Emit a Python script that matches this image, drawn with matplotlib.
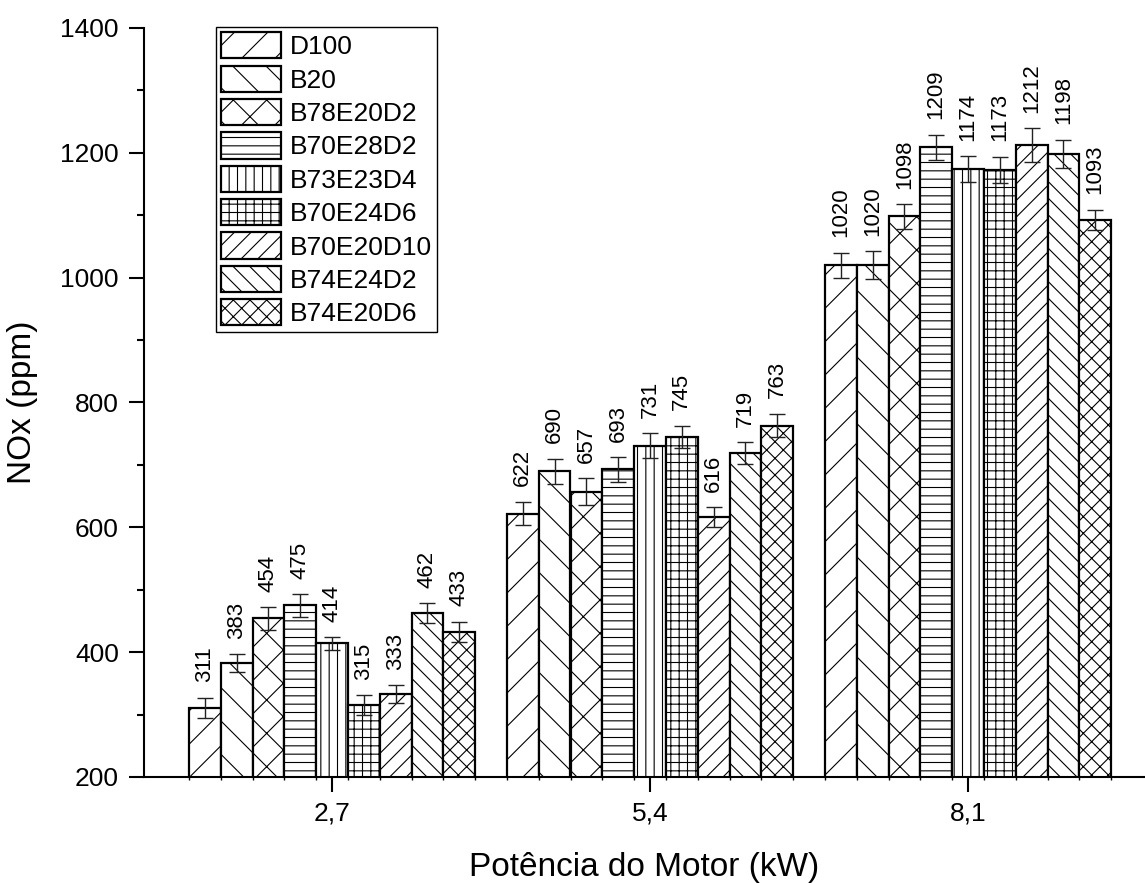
import matplotlib
matplotlib.use("Agg")
import matplotlib.pyplot as plt
import numpy as np
from matplotlib.ticker import MultipleLocator, FixedLocator

plt.rcParams['font.family'] = ['Liberation Sans', 'DejaVu Sans']
plt.rcParams['hatch.linewidth'] = 0.8
plt.rcParams['hatch.color'] = 'black'

groups = ['2,7', '5,4', '8,1']
series = ['D100', 'B20', 'B78E20D2', 'B70E28D2', 'B73E23D4', 'B70E24D6',
          'B70E20D10', 'B74E24D2', 'B74E20D6']
hatches = ['/', '\\', 'x', '--', '||', '++', '//', '\\\\', 'xx']

vals_27 = [311, 383, 454, 475, 414, 315, 333, 462, 433]
vals_54 = [622, 690, 657, 693, 731, 745, 616, 719, 763]
vals_81 = [1020, 1020, 1098, 1209, 1174, 1173, 1212, 1198, 1093]

err_27 = [16, 14, 18, 18, 10, 16, 14, 16, 16]
err_54 = [19, 20, 22, 20, 20, 18, 16, 18, 19]
err_81 = [20, 22, 20, 20, 21, 21, 27, 23, 16]

values = np.array([vals_27, vals_54, vals_81])
errors = np.array([err_27, err_54, err_81])

fig = plt.figure(figsize=(11.45, 8.83), dpi=100)
ax = fig.add_axes([144/1145, 1-777/883, 1-144/1145, (777-28)/883])

x = np.arange(len(groups))
width = 0.1
n = len(series)
edges = []
for i, name in enumerate(series):
    pos = x + (i - (n - 1) / 2) * width
    ax.bar(pos, values[:, i], width, color='white', edgecolor='black',
           linewidth=1.6, hatch=hatches[i], label=name, zorder=2)
    ax.errorbar(pos, values[:, i], yerr=errors[:, i], fmt='none',
                ecolor='#222222', elinewidth=1.0, capsize=5.5, capthick=1.0,
                zorder=3)
    for p, v, e in zip(pos, values[:, i], errors[:, i]):
        ax.annotate(str(v), (p, v + e), xytext=(0, 11),
                    textcoords='offset points', rotation=90,
                    ha='center', va='bottom', fontsize=16)
    edges.extend(list(pos - width / 2) + list(pos + width / 2))

ax.set_xlim(-(332-144)/318, 2 + (1145-968)/318)
ax.set_ylim(200, 1400)
ax.set_xticks(x)
ax.set_xticklabels(groups)
ax.xaxis.set_minor_locator(FixedLocator(sorted(set(np.round(edges, 4)))))
ax.yaxis.set_major_locator(MultipleLocator(200))
ax.yaxis.set_minor_locator(MultipleLocator(100))

for s in ['top', 'right']:
    ax.spines[s].set_visible(False)
for s in ['left', 'bottom']:
    ax.spines[s].set_linewidth(1.5)

ax.tick_params(axis='both', which='major', direction='out', length=11,
               width=1.5, labelsize=19, pad=7)
ax.tick_params(axis='y', which='minor', direction='out', length=5, width=1.5)
ax.tick_params(axis='x', which='minor', direction='out', length=2, width=1.0)

ax.set_xlabel('Potência do Motor (kW)', fontsize=24, labelpad=19)
ax.set_ylabel('NOx (ppm)', fontsize=24, labelpad=16)

leg = ax.legend(loc='upper left', bbox_to_anchor=(216/1145, 1-27/883),
                bbox_transform=fig.transFigure, borderaxespad=0,
                fontsize=19, handlelength=2.25, handleheight=1.15,
                handletextpad=0.35, labelspacing=0.24, borderpad=0.2,
                fancybox=False, framealpha=1, edgecolor='black')
leg.get_frame().set_linewidth(1.0)

fig.savefig('out.png', dpi=100)
